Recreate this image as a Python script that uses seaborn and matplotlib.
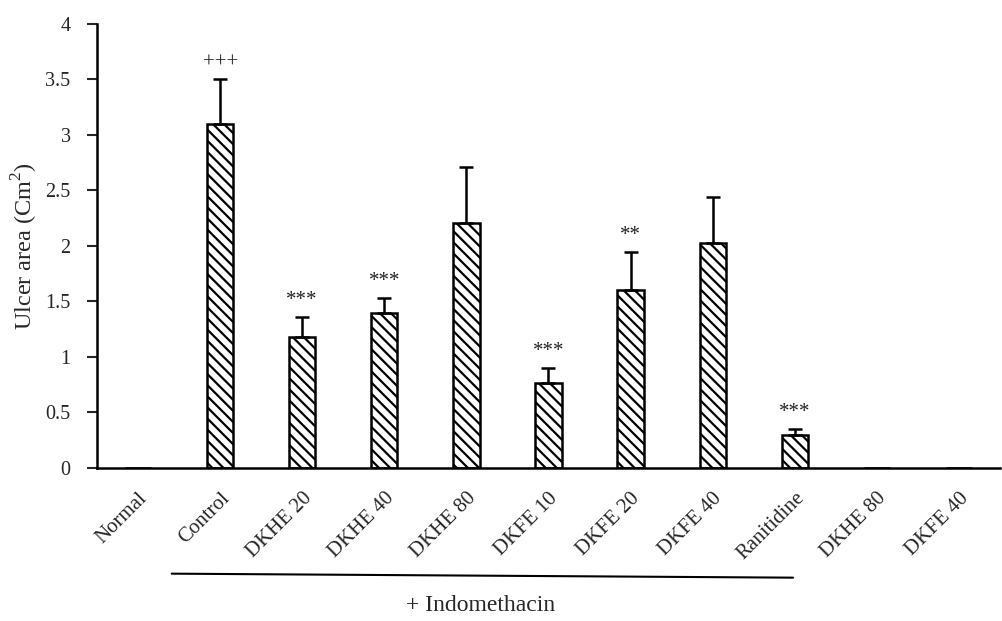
import matplotlib
matplotlib.use("Agg")
import matplotlib.pyplot as plt
import matplotlib.transforms as mtransforms
import seaborn as sns
import numpy as np
import pandas as pd

categories = ["Normal", "Control", "DKHE 20", "DKHE 40", "DKHE 80", "DKFE 10",
              "DKFE 20", "DKFE 40", "Ranitidine", "DKHE 80", "DKFE 40"]
means = [0.0, 3.10, 1.18, 1.40, 2.21, 0.77, 1.60, 2.03, 0.30, 0.0, 0.0]
errors = [0.0, 0.40, 0.18, 0.13, 0.50, 0.13, 0.35, 0.41, 0.05, 0.0, 0.0]
marks = ["", "+++", "***", "***", "", "***", "**", "", "***", "", ""]
yticks = [0, 0.5, 1, 1.5, 2, 2.5, 3, 3.5, 4]

sns.set_theme(style="white")
plt.rcParams["font.family"] = ["Liberation Serif", "DejaVu Serif"]
plt.rcParams["mathtext.fontset"] = "custom"
plt.rcParams["mathtext.rm"] = "Liberation Serif"
plt.rcParams["hatch.linewidth"] = 1.6
plt.rcParams["hatch.color"] = "black"

ids = [f"c{i}" for i in range(len(categories))]
df = pd.DataFrame({"id": ids, "mean": means})

fig = plt.figure(figsize=(10.02, 6.21), dpi=100)
ax = fig.add_axes([0.0968, 0.2464, 0.9012, 0.715])

sns.barplot(data=df, x="id", y="mean", order=ids, width=0.32, color="white",
            edgecolor="black", linewidth=1.8, ax=ax, errorbar=None)
for p in ax.patches:
    p.set_hatch("\\\\\\")
    p.set_facecolor("white")

pos = np.arange(len(categories))
m = np.array(means)
e = np.array(errors)
has = m > 0
ax.errorbar(pos[has], m[has], yerr=[np.zeros(has.sum()), e[has]], fmt="none",
            ecolor="black", elinewidth=1.8, capsize=5, capthick=1.8)

for x, mv, ev, s in zip(pos, means, errors, marks):
    if s:
        ax.text(x, mv + ev + 0.06, s, ha="center", va="bottom", fontsize=15,
                color="#222222")

ax.set_ylim(0, 4)
ax.set_xlim(-0.5, len(categories) - 0.5)
ax.set_yticks(yticks)
ax.set_yticklabels([f"{t:g}" for t in yticks], fontsize=14.5)
ax.set_xticks(pos)
ax.set_xticklabels(categories, rotation=45, ha="right", rotation_mode="anchor",
                   fontsize=15)
ax.tick_params(axis="x", length=0, pad=15)
ax.tick_params(axis="y", length=7, width=1.5, direction="out", left=True, pad=12)
ax.set_xlabel("")
ax.set_ylabel("Ulcer area (Cm$^{\\rm 2}$)", fontsize=17.5, labelpad=4)

for side in ["top", "right"]:
    ax.spines[side].set_visible(False)
for side in ["left", "bottom"]:
    ax.spines[side].set_color("black")
    ax.spines[side].set_linewidth(1.8)

trans = mtransforms.blended_transform_factory(ax.transData, ax.transAxes)
ax.plot([0.41, 7.98], [-0.238, -0.247], color="black", lw=1.5,
        transform=trans, clip_on=False)
ax.text(4.17, -0.31, "+ Indomethacin", transform=trans, ha="center",
        va="center", fontsize=17)

fig.savefig("out.png", dpi=100)
